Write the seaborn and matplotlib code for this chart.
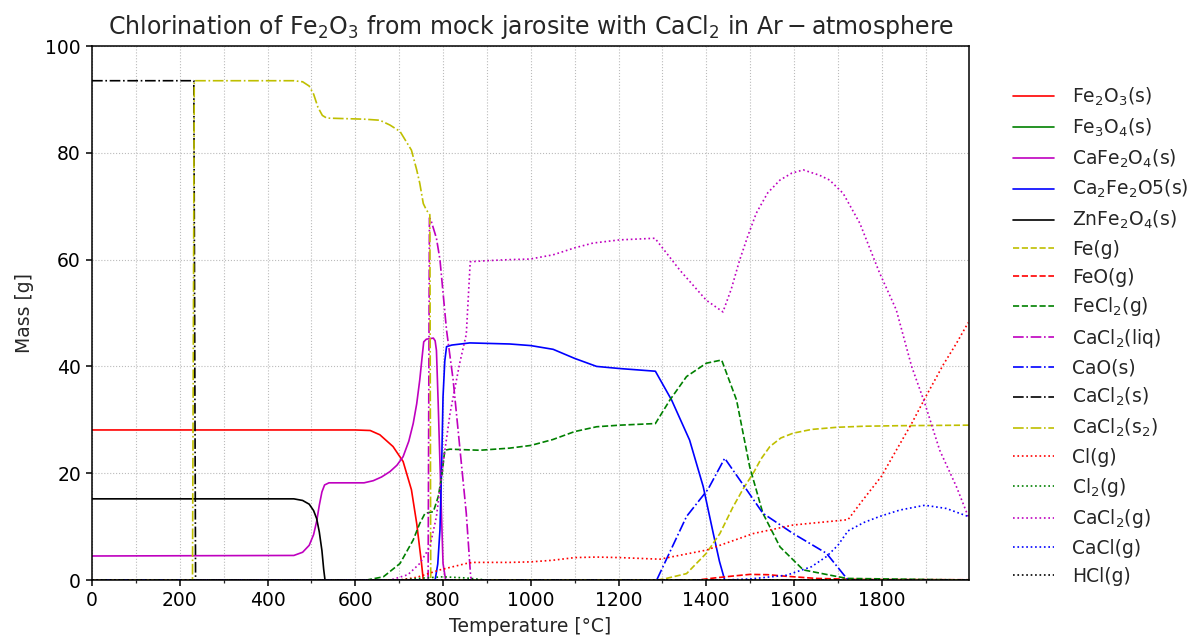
import numpy as np
import pandas as pd
import matplotlib
matplotlib.use("Agg")
import matplotlib.pyplot as plt
import seaborn as sns
from matplotlib.ticker import MultipleLocator

sns.set_style("ticks")
plt.rcParams["font.family"] = ["DejaVu Sans"]
plt.rcParams["mathtext.fontset"] = "dejavusans"

# ---- equilibrium amounts (mass in g) versus temperature (°C) ----
fe2o3_s_T = [0, 600, 634, 656, 686, 709, 728, 740, 751, 755, 2000]
fe2o3_s_m = [28.1, 28.1, 28.0, 27.2, 25.0, 22.2, 16.9, 10.6, 3.1, 0, 0]

fe3o4_s_T = [0, 2000]
fe3o4_s_m = [0, 0]

cafe2o4_s_T = [0, 460, 480, 495, 505, 512, 518, 524, 530, 540, 620, 641, 660, 679, 695,
               709, 722, 732, 740, 747, 752, 756, 762, 778, 782, 785, 789, 793, 797, 800,
               806, 2000]
cafe2o4_s_m = [4.5, 4.6, 5.2, 6.5, 8.5, 11.0, 14.0, 16.5, 17.8, 18.2, 18.2, 18.6, 19.3,
               20.3, 21.5, 23.1, 26.0, 29.3, 33.0, 37.5, 41.5, 44.6, 45.1, 45.3, 44.8, 43.0,
               33.0, 21.8, 11.0, 3.1, 0, 0]

ca2fe2o5_s_T = [0, 782, 788, 793, 797, 800, 804, 808, 820, 861, 952, 1000, 1051, 1100,
                1150, 1203, 1284, 1321, 1362, 1393, 1416, 1430, 1442, 2000]
ca2fe2o5_s_m = [0, 0, 3.0, 9.4, 22.0, 34.3, 41.0, 43.7, 44.0, 44.4, 44.2, 43.9, 43.2,
                41.5, 40.0, 39.6, 39.1, 33.7, 26.2, 17.5, 8.7, 3.5, 0, 0]

znfe2o4_s_T = [0, 460, 480, 495, 505, 512, 518, 524, 528, 531, 2000]
znfe2o4_s_m = [15.2, 15.2, 14.9, 14.2, 13.0, 11.5, 9.0, 5.5, 2.0, 0, 0]

fe_g_T = [0, 1290, 1309, 1355, 1400, 1431, 1461, 1485, 1507, 1525, 1545, 1570, 1598,
          1640, 1697, 1760, 1841, 2000]
fe_g_m = [0, 0, 0.3, 1.2, 5.0, 8.7, 13.7, 17.2, 20.0, 22.7, 25.0, 26.6, 27.5, 28.2,
          28.6, 28.8, 28.9, 29.0]

feo_g_T = [0, 1380, 1420, 1461, 1499, 1540, 1575, 1651, 1750, 2000]
feo_g_m = [0, 0, 0.4, 0.75, 1.05, 1.0, 0.75, 0.3, 0.1, 0.05]

fecl2_g_T = [0, 626, 664, 702, 732, 747, 759, 778, 789, 797, 804, 816, 884, 952, 1000,
             1050, 1100, 1150, 1203, 1284, 1317, 1355, 1400, 1435, 1469, 1499, 1529,
             1568, 1621, 1720, 2000]
fecl2_g_m = [0, 0, 0.6, 3.1, 7.5, 10.6, 12.5, 12.8, 15.6, 19.4, 24.3, 24.5, 24.3, 24.7,
             25.2, 26.3, 27.8, 28.7, 29.0, 29.3, 33.7, 38.1, 40.6, 41.2, 33.7, 21.2,
             12.5, 6.2, 1.9, 0.3, 0]

cacl2_liq_T = [0, 766, 769, 772, 785, 793, 808, 823, 838, 853, 863, 866, 2000]
cacl2_liq_m = [0, 0, 67.8, 67.5, 64.0, 60.0, 46.8, 37.5, 25.0, 12.5, 0.6, 0, 0]

cao_s_T = [0, 1287, 1355, 1404, 1442, 1492, 1529, 1598, 1674, 1723, 2000]
cao_s_m = [0, 0, 11.9, 17.0, 22.8, 16.9, 12.5, 8.7, 5.0, 0, 0]

cacl2_s_T = [0, 232, 236, 2000]
cacl2_s_m = [93.5, 93.5, 0, 0]

cacl2_s2_T = [0, 229, 233, 460, 480, 495, 505, 515, 525, 535, 620, 656, 679, 702, 728,
              740, 747, 755, 762, 770, 772, 2000]
cacl2_s2_m = [0, 0, 93.5, 93.5, 93.3, 92.5, 91.0, 88.5, 87.0, 86.5, 86.3, 86.1, 85.2,
              84.0, 80.5, 76.8, 74.3, 70.5, 69.3, 68.4, 0, 0]

cl_g_T = [0, 700, 740, 793, 853, 868, 952, 1000, 1050, 1100, 1150, 1203, 1294, 1400,
          1507, 1598, 1723, 1757, 1799, 1833, 1868, 1902, 1940, 1970, 1997]
cl_g_m = [0, 0, 0.5, 1.9, 3.1, 3.3, 3.3, 3.4, 3.7, 4.2, 4.3, 4.2, 3.9, 5.6, 8.7, 10.3,
          11.3, 15.0, 19.4, 24.3, 29.3, 34.6, 40.3, 44.3, 48.2]

cl2_g_T = [0, 700, 760, 800, 850, 900, 2000]
cl2_g_m = [0, 0, 0.4, 0.6, 0.4, 0, 0]

cacl2_g_T = [0, 680, 720, 747, 770, 785, 800, 816, 838, 853, 862, 900, 952, 998, 1051,
             1100, 1142, 1203, 1283, 1340, 1400, 1438, 1457, 1476, 1495, 1514, 1540,
             1568, 1595, 1621, 1658, 1681, 1712, 1750, 1795, 1833, 1868, 1898, 1932,
             1970, 1997]
cacl2_g_m = [0, 0, 1.0, 3.1, 6.2, 11.9, 21.8, 31.2, 40.6, 46.0, 59.6, 59.8, 60.0, 60.1,
             60.9, 62.2, 63.1, 63.7, 64.0, 58.0, 52.4, 50.2, 54.5, 59.9, 64.5, 68.7,
             72.5, 74.9, 76.2, 76.8, 75.8, 74.9, 72.4, 66.8, 57.5, 50.6, 40.0, 33.1,
             24.3, 17.5, 11.9]

cacl_g_T = [0, 1440, 1500, 1583, 1640, 1674, 1700, 1723, 1760, 1795, 1841, 1898, 1947, 1997]
cacl_g_m = [0, 0, 0.2, 0.9, 2.5, 4.4, 6.5, 9.2, 10.8, 11.9, 13.1, 14.0, 13.4, 11.9]

hcl_g_T = [0, 2000]
hcl_g_m = [0, 0]

species = [
    (r"Fe$_2$O$_3$(s)", fe2o3_s_T, fe2o3_s_m, "r", "-"),
    (r"Fe$_3$O$_4$(s)", fe3o4_s_T, fe3o4_s_m, "g", "-"),
    (r"CaFe$_2$O$_4$(s)", cafe2o4_s_T, cafe2o4_s_m, "m", "-"),
    (r"Ca$_2$Fe$_2$O5(s)", ca2fe2o5_s_T, ca2fe2o5_s_m, "b", "-"),
    (r"ZnFe$_2$O$_4$(s)", znfe2o4_s_T, znfe2o4_s_m, "k", "-"),
    (r"Fe(g)", fe_g_T, fe_g_m, "y", "--"),
    (r"FeO(g)", feo_g_T, feo_g_m, "r", "--"),
    (r"FeCl$_2$(g)", fecl2_g_T, fecl2_g_m, "g", "--"),
    (r"CaCl$_2$(liq)", cacl2_liq_T, cacl2_liq_m, "m", "-."),
    (r"CaO(s)", cao_s_T, cao_s_m, "b", "-."),
    (r"CaCl$_2$(s)", cacl2_s_T, cacl2_s_m, "k", "-."),
    (r"CaCl$_2$(s$_2$)", cacl2_s2_T, cacl2_s2_m, "y", "-."),
    (r"Cl(g)", cl_g_T, cl_g_m, "r", ":"),
    (r"Cl$_2$(g)", cl2_g_T, cl2_g_m, "g", ":"),
    (r"CaCl$_2$(g)", cacl2_g_T, cacl2_g_m, "m", ":"),
    (r"CaCl(g)", cacl_g_T, cacl_g_m, "b", ":"),
    (r"HCl(g)", hcl_g_T, hcl_g_m, "k", ":"),
]

fig = plt.figure(figsize=(11.92, 6.39), dpi=100)
ax = fig.add_axes([0.0772, 0.0923, 0.7358, 0.8357])

for label, T, m, col, ls in species:
    df = pd.DataFrame({"T": T, "m": m})
    sns.lineplot(data=df, x="T", y="m", ax=ax, color=col, linestyle=ls,
                 linewidth=1.2, label=label, estimator=None, sort=False)

ax.set_xlim(0, 1999)
ax.set_ylim(0, 100)
ax.xaxis.set_major_locator(MultipleLocator(200))
ax.xaxis.set_minor_locator(MultipleLocator(100))
ax.yaxis.set_major_locator(MultipleLocator(20))
ax.grid(True, which="both", axis="x", linestyle=":", color="#bbbbbb", linewidth=0.8)
ax.grid(True, which="major", axis="y", linestyle=":", color="#bbbbbb", linewidth=0.8)
ax.tick_params(axis="both", which="major", direction="out", length=4.5, width=1.1,
               labelsize=13.5, colors="black")
ax.tick_params(axis="x", which="minor", direction="out", length=2.5, width=0.9)
for s in ax.spines.values():
    s.set_color("black")
    s.set_linewidth(1.1)

ax.set_xlabel("Temperature [°C]", fontsize=13.5, labelpad=5)
ax.set_ylabel("Mass [g]", fontsize=13.5, labelpad=8)
ax.set_title(r"Chlorination of Fe$_2$O$_3$ from mock jarosite with CaCl$_2$ in $\mathrm{Ar-atmosphere}$",
             fontsize=17, pad=9)

handles, labels = ax.get_legend_handles_labels()
ax.legend(handles, labels, loc="center left", bbox_to_anchor=(1013 / 1192, 0.475),
          bbox_transform=fig.transFigure, frameon=False, fontsize=13.5,
          handlelength=2.2, handletextpad=0.95, labelspacing=0.46, borderpad=0,
          borderaxespad=0)

fig.savefig("out.png", dpi=100)
